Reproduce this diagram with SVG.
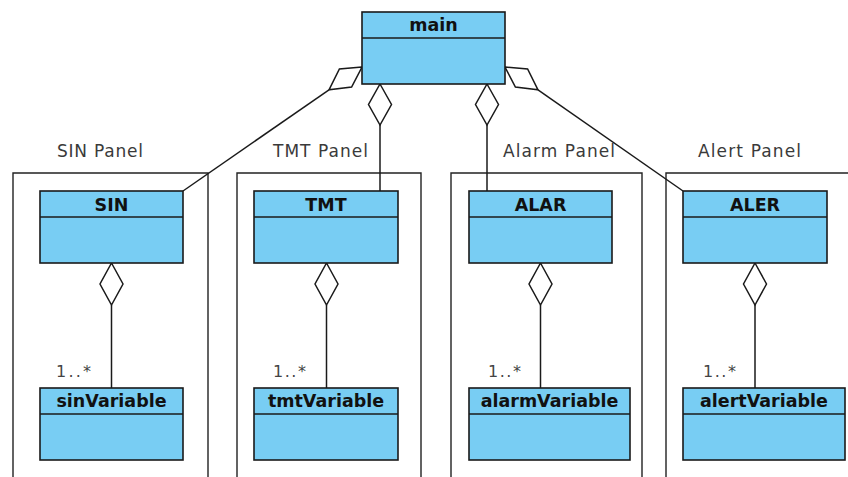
<svg xmlns="http://www.w3.org/2000/svg" width="848" height="477" viewBox="0 0 848 477">
<style>
.bg{fill:#ffffff}
.frame{fill:none;stroke:#222;stroke-width:1.4}
.box{fill:#78CDF3;stroke:#1a1a1a;stroke-width:1.6}
.div{stroke:#1a1a1a;stroke-width:1.4}
.title{font-family:"DejaVu Sans",Verdana,sans-serif;font-weight:bold;font-size:17.5px;fill:#111;text-anchor:middle}
.plabel{font-family:"DejaVu Sans",Verdana,sans-serif;font-size:17px;fill:#3a3a3a}
.mult{font-family:"DejaVu Sans",Verdana,sans-serif;font-size:16px;fill:#444}
.conn{fill:none;stroke:#1a1a1a;stroke-width:1.5}
.dia{fill:#ffffff;stroke:#1a1a1a;stroke-width:1.5}
</style>
<rect class="bg" x="0" y="0" width="848" height="477"/>

<g id="panels">
  <g id="panel-sin">
    <path class="frame" d="M13,480 V173 H208 V480"/>
    <text class="plabel" x="57" y="157" textLength="86" lengthAdjust="spacing">SIN Panel</text>
  </g>
  <g id="panel-tmt">
    <path class="frame" d="M237,480 V173 H421 V480"/>
    <text class="plabel" x="273" y="157" textLength="95" lengthAdjust="spacing">TMT Panel</text>
  </g>
  <g id="panel-alarm">
    <path class="frame" d="M451,480 V173 H642 V480"/>
    <text class="plabel" x="503" y="157" textLength="112" lengthAdjust="spacing">Alarm Panel</text>
  </g>
  <g id="panel-alert">
    <path class="frame" d="M666,480 V173 H852"/>
    <text class="plabel" x="698" y="157" textLength="103" lengthAdjust="spacing">Alert Panel</text>
  </g>
</g>

<g id="connectors">
  <path class="conn" d="M329,89.8 L183,191"/>
  <polygon class="dia" points="362,67 339.4,68.9 329,89.8 351.6,87.1"/>
  <path class="conn" d="M380,125 V191"/>
  <polygon class="dia" points="380,84 391.5,104.5 380,125 368.5,104.5"/>
  <path class="conn" d="M487,125 V191"/>
  <polygon class="dia" points="487,84 498.5,104.5 487,125 475.5,104.5"/>
  <path class="conn" d="M538,89.8 L683,191"/>
  <polygon class="dia" points="505,67 527.6,68.9 538,89.8 515.4,87.1"/>

  <path class="conn" d="M111.5,305 V388"/>
  <polygon class="dia" points="111.5,263 123,284 111.5,305 100,284"/>
  <text class="mult" x="56" y="377" textLength="35" lengthAdjust="spacing">1..*</text>

  <path class="conn" d="M326.5,305 V388"/>
  <polygon class="dia" points="326.5,263 338,284 326.5,305 315,284"/>
  <text class="mult" x="273" y="377" textLength="33" lengthAdjust="spacing">1..*</text>

  <path class="conn" d="M540.5,305 V388"/>
  <polygon class="dia" points="540.5,263 552,284 540.5,305 529,284"/>
  <text class="mult" x="488" y="377" textLength="33" lengthAdjust="spacing">1..*</text>

  <path class="conn" d="M755,305 V388"/>
  <polygon class="dia" points="755,263 766.5,284 755,305 743.5,284"/>
  <text class="mult" x="703" y="377" textLength="33" lengthAdjust="spacing">1..*</text>
</g>

<g id="main">
  <rect class="box" x="362" y="12" width="143" height="72"/>
  <line class="div" x1="362" y1="38" x2="505" y2="38"/>
  <text class="title" x="433.5" y="31">main</text>
</g>

<g id="SIN">
  <rect class="box" x="40" y="191" width="143" height="72"/>
  <line class="div" x1="40" y1="217" x2="183" y2="217"/>
  <text class="title" x="111.5" y="211">SIN</text>
</g>
<g id="TMT">
  <rect class="box" x="254" y="191" width="144" height="72"/>
  <line class="div" x1="254" y1="217" x2="398" y2="217"/>
  <text class="title" x="326" y="211">TMT</text>
</g>
<g id="ALAR">
  <rect class="box" x="469" y="191" width="143" height="72"/>
  <line class="div" x1="469" y1="217" x2="612" y2="217"/>
  <text class="title" x="540.5" y="211">ALAR</text>
</g>
<g id="ALER">
  <rect class="box" x="683" y="191" width="144" height="72"/>
  <line class="div" x1="683" y1="217" x2="827" y2="217"/>
  <text class="title" x="755" y="211">ALER</text>
</g>

<g id="sinVariable">
  <rect class="box" x="40" y="388" width="143" height="72"/>
  <line class="div" x1="40" y1="414" x2="183" y2="414"/>
  <text class="title" x="111.5" y="407">sinVariable</text>
</g>
<g id="tmtVariable">
  <rect class="box" x="254" y="388" width="144" height="72"/>
  <line class="div" x1="254" y1="414" x2="398" y2="414"/>
  <text class="title" x="326" y="407">tmtVariable</text>
</g>
<g id="alarmVariable">
  <rect class="box" x="469" y="388" width="161" height="72"/>
  <line class="div" x1="469" y1="414" x2="630" y2="414"/>
  <text class="title" x="549.5" y="407">alarmVariable</text>
</g>
<g id="alertVariable">
  <rect class="box" x="683" y="388" width="162" height="72"/>
  <line class="div" x1="683" y1="414" x2="845" y2="414"/>
  <text class="title" x="764" y="407">alertVariable</text>
</g>
</svg>
